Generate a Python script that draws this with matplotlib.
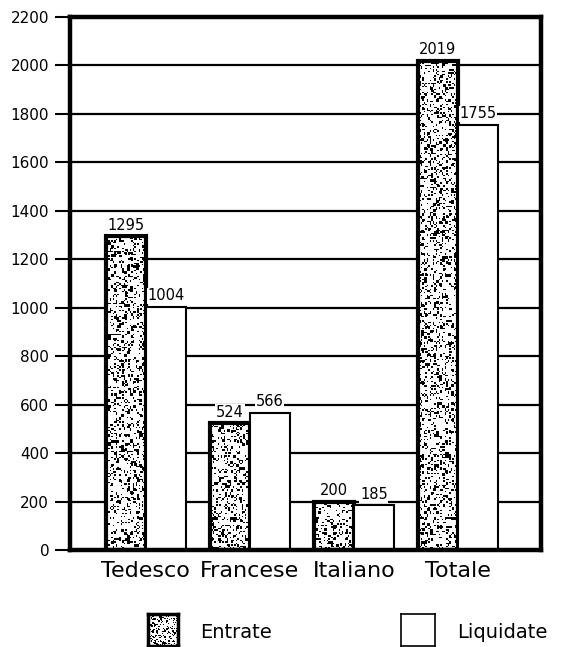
import numpy as np
import matplotlib
matplotlib.use("Agg")
import matplotlib.pyplot as plt

# Data
categories = ["Tedesco", "Francese", "Italiano", "Totale"]
entrate = [1295, 524, 200, 2019]
liquidate = [1004, 566, 185, 1755]
yticks = list(range(0, 2201, 200))

plt.rcParams["font.family"] = ["DejaVu Sans"]

W, H = 565, 647
fig = plt.figure(figsize=(W / 100, H / 100), dpi=100)
ax = fig.add_axes([70 / W, 1 - 550 / H, (541 - 70) / W, (550 - 17) / H])

x = np.arange(len(categories))
bw = 0.385
xlim = (-0.73, 3.80)

# horizontal grid
for t in yticks[1:-1]:
    ax.axhline(t, color="black", lw=1.6, zorder=1)

# fine speckled texture used to fill the "Entrate" bars
rng = np.random.default_rng(11)
fine = rng.random((360, 320)) < 0.20
clumps = np.kron(rng.random((180, 160)) < 0.06, np.ones((2, 2), dtype=bool))
tex_img = 1.0 - (fine | clumps).astype(float)

ent_bars = ax.bar(x - bw / 2, entrate, bw, facecolor="none", edgecolor="black",
                  linewidth=3.0, zorder=3)
for b in ent_bars:
    im = ax.imshow(tex_img, cmap="gray", vmin=0, vmax=1, interpolation="nearest",
                   extent=(xlim[0], xlim[1], 0, 2200), aspect="auto", zorder=2.5)
    im.set_clip_path(b)

liq_bars = ax.bar(x + bw / 2, liquidate, bw, facecolor="white", edgecolor="black",
                  linewidth=1.5, zorder=3)
ax.set_xlim(*xlim)
ax.set_ylim(0, 2200)

# value labels
for xs, vals in ((x - bw / 2, entrate), (x + bw / 2, liquidate)):
    for xi, v in zip(xs, vals):
        ax.text(xi, v + 14, str(v), ha="center", va="bottom", fontsize=10.5, zorder=4,
                bbox=dict(facecolor="white", edgecolor="none", pad=0.5))

# axes frame and ticks
for s in ax.spines.values():
    s.set_linewidth(3.2)
    s.set_zorder(5)
ax.set_yticks(yticks)
ax.tick_params(axis="y", direction="out", length=11, width=1.5, pad=4, labelsize=11)
ax.set_xticks(x)
ax.set_xticklabels(categories, fontsize=16)
ax.tick_params(axis="x", length=0, pad=8)

# legend
lax1 = fig.add_axes([148 / W, 1 - 646 / H, 30 / W, 32 / H])
lax1.imshow(tex_img[:32, :30], cmap="gray", vmin=0, vmax=1, interpolation="nearest",
            aspect="auto")
lax1.set_xticks([]); lax1.set_yticks([])
for s in lax1.spines.values():
    s.set_linewidth(2.5)
fig.text(200 / W, 1 - 632 / H, "Entrate", fontsize=14, va="center", ha="left")

lax2 = fig.add_axes([401 / W, 1 - 646 / H, 34 / W, 32 / H])
lax2.set_xticks([]); lax2.set_yticks([])
for s in lax2.spines.values():
    s.set_linewidth(1.2)
fig.text(457 / W, 1 - 632 / H, "Liquidate", fontsize=14, va="center", ha="left")

fig.savefig("out.png", dpi=100, facecolor="white")
